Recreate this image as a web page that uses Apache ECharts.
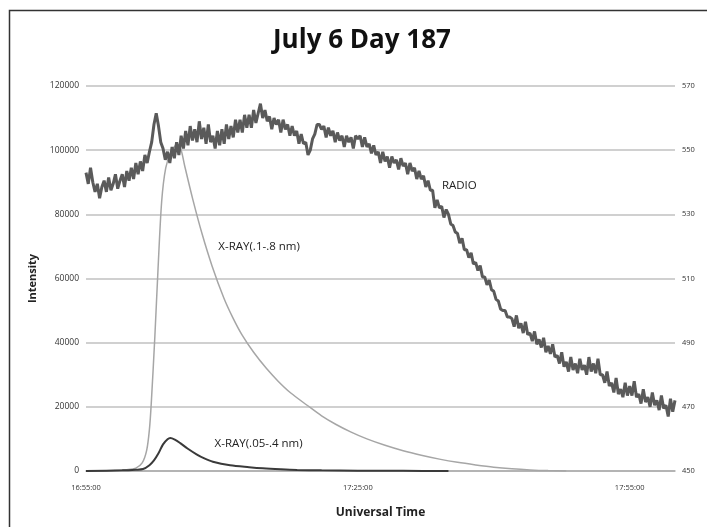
<!DOCTYPE html>
<html>
<head>
<meta charset="utf-8">
<script src="https://cdn.jsdelivr.net/npm/echarts@6/dist/echarts.min.js"></script>
<style>
  html, body { margin: 0; padding: 0; background: #fff; }
  #chart { width: 707px; height: 527px; }
</style>
</head>
<body>
<div id="chart"></div>
<script>
// radio flux, sampled every 15 s from 16:55:00 (right axis)
let radioStep = 0.25;
// prettier-ignore
let radio = [
  543, 539.5, 544.5, 540, 537, 539.5, 535, 538.5, 540.5, 537, 541.5, 537.5, 539.5, 542.5, 538, 540.5, 542.5, 538.5, 543.5, 540.5,
  544.5, 541, 546, 542.5, 546.5, 543.5, 548.5, 546, 549.5, 552.5, 558, 561.5, 557.5, 552.5, 550.5, 547, 549.5, 546, 551, 547.5,
  552.5, 548.5, 554.5, 550.5, 556, 551.5, 557.5, 553, 556.5, 552.5, 559, 553.5, 557, 552, 558, 552.5, 554.5, 550.5, 556, 551.5,
  556.5, 552, 558, 553.5, 557.5, 554, 559.5, 555.5, 559.5, 555.5, 561, 557, 561, 557, 562.5, 558.5, 561.5, 564.5, 560, 562.5,
  559, 560.5, 556.5, 560, 558, 559.5, 555.5, 559.5, 556.5, 558, 554.5, 557.5, 554.5, 556, 552, 555, 552, 552.5, 548.5, 550,
  553.5, 555, 558, 558, 556.5, 557.5, 554, 557, 554.5, 556, 552.5, 555.5, 553, 554.5, 551, 554.5, 552.5, 554, 550.5, 554.5,
  553.5, 554.5, 551, 554, 551, 552, 549, 551.5, 548.5, 549.5, 546, 549.5, 546.5, 548, 544.5, 548, 546, 547, 544, 547.5,
  545, 546, 542.5, 546, 543.5, 544.5, 541, 543.5, 541, 542, 538.5, 540.5, 537.5, 537.5, 532, 534.5, 532, 532.5, 529, 531.5,
  530, 527, 526.5, 524.5, 524, 521, 522.5, 519, 519, 516.5, 518, 514.5, 515, 512.5, 514, 510.5, 510.5, 508, 509.5, 506.5,
  506, 503.5, 503, 500.5, 500, 500, 498, 498, 497.5, 495, 498.5, 494.5, 496, 493, 496.5, 492.5, 493, 490.5, 493.5, 489.5,
  491, 488.5, 491.5, 487, 489, 486.5, 489.5, 485.5, 486, 483.5, 487, 482.5, 484, 481, 485.5, 481.5, 483.5, 480.5, 485, 481.5,
  483, 480, 485.5, 481, 483.5, 480.5, 485, 480, 480, 477.5, 481, 476.5, 477.5, 474.5, 479, 474, 475.5, 473, 477.5, 473.5,
  476.5, 473.5, 478, 473, 474, 471, 475.5, 471.5, 473, 470, 474.5, 470.5, 472, 469, 473.5, 469.5, 470.5, 467, 472.5, 468.5,
  472
];

// x-ray fluxes, [minutes after 16:55, intensity] (left axis)
// prettier-ignore
let xrayLong = [
  [0, 0], [3, 100], [4.5, 400], [5.5, 900], [6.2, 2500], [6.7, 6500], [7.0, 13000], [7.2, 21000],
  [7.6, 42000], [7.95, 63000], [8.35, 84000], [8.8, 94500], [9.4, 99500], [10.1, 101800], [10.5, 100000],
  [10.9, 95000], [11.8, 84500], [12.8, 74000], [13.9, 64000], [15.2, 54000], [16.2, 47800], [17.2, 42500],
  [18.5, 37000], [19.9, 32000], [21.2, 28000], [22.6, 24300], [24.4, 20500], [26, 17200], [27.6, 14500],
  [29.2, 12200], [31, 10000], [33, 8000], [35, 6300], [37, 4900], [39, 3700], [41, 2700], [43, 1900],
  [45, 1200], [47, 700], [49, 350], [51, 120], [53, 0]
];
// prettier-ignore
let xrayShort = [
  [0, 0], [4, 200], [5.5, 400], [6.3, 600], [7.0, 1800], [7.5, 3300], [8.0, 5500], [8.5, 8300],
  [9.0, 9900], [9.3, 10300], [9.8, 9800], [10.4, 8700], [11.2, 7000], [12.2, 5200], [13, 4000], [14, 2900],
  [15.9, 1800], [18, 1200], [19.5, 850], [21.5, 550], [23.3, 350], [26, 200], [30, 100], [35, 50], [40, 0]
];

let seriesNames = ["RADIO", "X-RAY(.1-.8 nm)", "X-RAY(.05-.4 nm)"];
// where each series name is written: [minutes, value]
let nameSpots = [[41.2, 539], [19.1, 69800], [19.05, 8400]];

let startMinutes = 16 * 60 + 55;
let leftTicks = [0, 120000, 20000];
let rightTicks = [450, 570, 20];

let radioPts = [];
for (let i = 0; i < radio.length; i++) {
  radioPts.push([i * radioStep, radio[i]]);
}

function clock(v) {
  let m = startMinutes + v;
  let hh = Math.floor(m / 60);
  let mm = Math.round(m % 60);
  return hh + ":" + (mm < 10 ? "0" + mm : mm) + ":00";
}

function nameMark(i) {
  return {
    symbol: "circle",
    symbolSize: 1,
    itemStyle: { color: "rgba(0,0,0,0)" },
    label: {
      show: true,
      position: "inside",
      formatter: seriesNames[i],
      color: "#222",
      fontSize: 11.5,
      fontFamily: "Open Sans",
    },
    data: [{ coord: nameSpots[i] }],
  };
}

let chart = echarts.init(document.getElementById("chart"));

let option = {
  animation: false,
  backgroundColor: "#fff",
  title: {
    text: "July 6 Day 187",
    left: 268,
    top: 23,
    textStyle: {
      fontFamily: "Open Sans",
      fontWeight: "bold",
      fontSize: 26,
      color: "#111",
    },
  },
  graphic: [
    {
      type: "rect",
      shape: { x: 9.5, y: 10.5, width: 720, height: 540 },
      style: { fill: "none", stroke: "#333", lineWidth: 1.5 },
      silent: true,
    },
  ],
  grid: {
    left: 86,
    right: 32,
    top: 86,
    bottom: 56,
  },
  xAxis: {
    type: "value",
    min: 0,
    max: 65,
    interval: 30,
    name: "Universal Time",
    nameLocation: "middle",
    nameGap: 36,
    nameTextStyle: {
      fontFamily: "Open Sans",
      fontWeight: "bold",
      fontSize: 12,
      color: "#222",
    },
    axisLine: { show: true, lineStyle: { color: "#aaa", width: 1.5 } },
    axisTick: { show: false },
    splitLine: { show: false },
    axisLabel: {
      showMaxLabel: false,
      margin: 13,
      fontSize: 7.5,
      color: "#333",
      fontFamily: "Open Sans",
      formatter: clock,
    },
  },
  yAxis: [
    {
      type: "value",
      min: leftTicks[0],
      max: leftTicks[1],
      interval: leftTicks[2],
      name: "Intensity",
      nameLocation: "middle",
      nameRotate: 90,
      nameGap: 48,
      nameTextStyle: {
        fontFamily: "Open Sans",
        fontWeight: "bold",
        fontSize: 11,
        color: "#222",
      },
      axisLine: { show: false },
      axisTick: { show: false },
      axisLabel: {
        margin: 7,
        fontSize: 8.5,
        color: "#333",
        fontFamily: "Open Sans",
        formatter: function (v) {
          return String(v);
        },
      },
      splitLine: { lineStyle: { color: "#c0c0c0", width: 1.5 } },
    },
    {
      type: "value",
      min: rightTicks[0],
      max: rightTicks[1],
      interval: rightTicks[2],
      axisLine: { show: false },
      axisTick: { show: false },
      axisLabel: {
        margin: 7,
        fontSize: 7.5,
        color: "#333",
        fontFamily: "Open Sans",
      },
      splitLine: { show: false },
    },
  ],
  series: [
    {
      name: seriesNames[1],
      type: "line",
      yAxisIndex: 0,
      showSymbol: false,
      smooth: 0.3,
      lineStyle: { color: "#a6a6a6", width: 1.5 },
      data: xrayLong,
      markPoint: nameMark(1),
      z: 2,
    },
    {
      name: seriesNames[2],
      type: "line",
      yAxisIndex: 0,
      showSymbol: false,
      smooth: 0.3,
      lineStyle: { color: "#3a3a3a", width: 2 },
      data: xrayShort,
      markPoint: nameMark(2),
      z: 3,
    },
    {
      name: seriesNames[0],
      type: "line",
      yAxisIndex: 1,
      showSymbol: false,
      lineStyle: { color: "#5a5a5a", width: 3 },
      data: radioPts,
      markPoint: nameMark(0),
      z: 4,
    },
  ],
};

chart.setOption(option);
</script>
</body>
</html>
